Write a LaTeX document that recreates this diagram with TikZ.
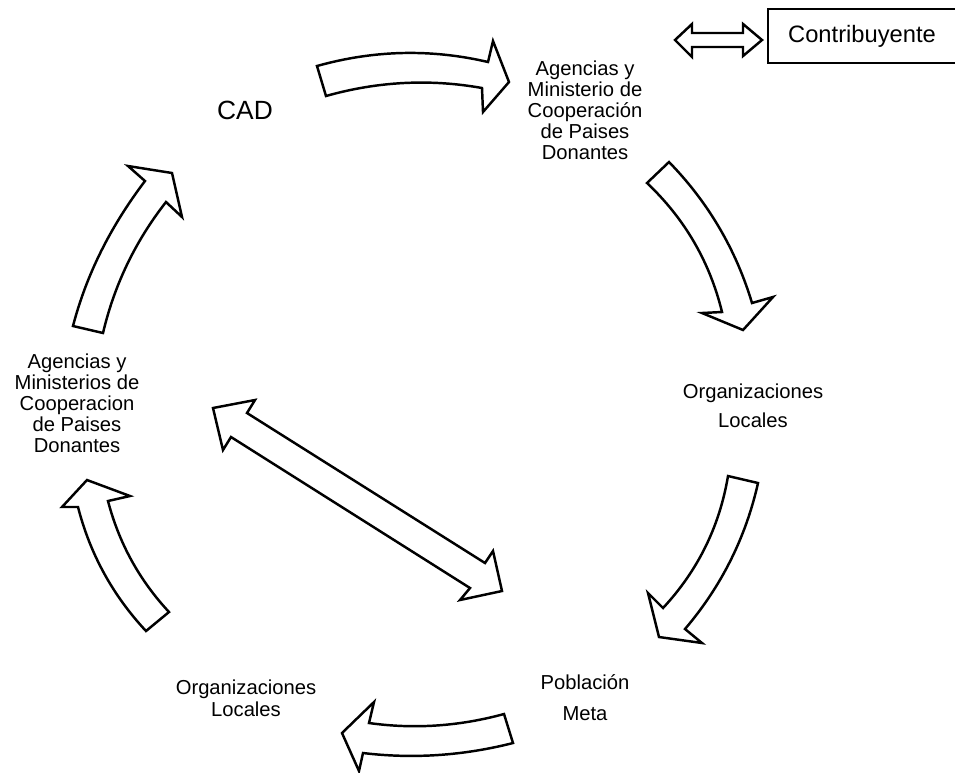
\documentclass[tikz,border=0pt]{standalone}
\usepackage{fontspec}
\setmainfont{Liberation Sans}
\tikzset{
  blockarrow/.style={draw, line width=1.4pt, fill=white, line join=miter},
  lbl/.style={align=center, inner sep=0pt, font=\fontsize{11.5}{11.9}\selectfont},
}

\begin{document}
\begin{tikzpicture}[x=0.02cm, y=-0.02cm]
  \useasboundingbox (0,0) rectangle (955,772);

  % textos del ciclo
  \node[inner sep=0pt, font=\fontsize{15}{18}\selectfont] (cad) at (245,110) {CAD};
  \node[lbl] (donantes) at (585,110.5) {Agencias y\\Ministerio de\\Cooperación\\de Paises\\Donantes};
  \node[lbl, font=\fontsize{11.5}{16.4}\selectfont] (orgder) at (753,406) {Organizaciones\\Locales};
  \node[lbl, font=\fontsize{11.5}{17.6}\selectfont] (poblacion) at (585,698) {Población\\Meta};
  \node[lbl, font=\fontsize{11.5}{12.5}\selectfont] (orgizq) at (246,698) {Organizaciones\\Locales};
  \node[lbl] (donizq) at (77,403.5) {Agencias y\\Ministerios de\\Cooperacion\\de Paises\\Donantes};
  \node[draw, line width=0.75pt, minimum width=3.76cm, minimum height=1.08cm,
        font=\fontsize{13.5}{16}\selectfont] (contrib) at (862,36) {Contribuyente};

  % flechas curvas
  \draw[blockarrow] (317,66) .. controls (374,50) and (431,48.7) .. (488,62) -- (493,41) -- (509,82)
    -- (483,112) -- (482,88) .. controls (430,78.7) and (378,81.3) .. (326,96) -- cycle;
  \draw[blockarrow] (669,162) .. controls (708.1,202.2) and (735.8,249.2) .. (752,303) -- (773,297)
    -- (743,330) -- (702,313) -- (722,312) .. controls (709.7,261.7) and (684.7,218.7) .. (647,183) -- cycle;
  \draw[blockarrow] (758,483) .. controls (745.7,537.7) and (721.3,586.3) .. (685,629) -- (702,643)
    -- (659,637) -- (648,593) -- (663,608) .. controls (697.9,570.5) and (719.5,526.5) .. (728,476) -- cycle;
  \draw[blockarrow] (504,714) .. controls (459,726.3) and (414,729.3) .. (369,723) -- (374,702)
    -- (342,733) -- (359,771) -- (363,753) .. controls (413,759) and (463,755.7) .. (513,743) -- cycle;
  \draw[blockarrow] (169,612) .. controls (139.3,580.1) and (119,543.1) .. (108,501) -- (130,496)
    -- (87,480) -- (62,507) -- (78,507) .. controls (90.1,554.1) and (112.8,595.4) .. (146,631) -- cycle;
  \draw[blockarrow] (73,326) .. controls (86.3,275) and (110.3,226.7) .. (145,181) -- (128,166)
    -- (172,173) -- (182,217) -- (166,202) .. controls (135.4,241.1) and (114.4,284.7) .. (103,333) -- cycle;

  % flechas dobles
  \draw[blockarrow] (213,408) -- (255,400) -- (247,413) -- (485,563) -- (493,551) -- (502,591)
    -- (460,600) -- (470,588) -- (231,437) -- (223,450) -- cycle;
  \draw[blockarrow] (675,40) -- (692,24) -- (692,33) -- (743,33) -- (743,24) -- (762,40)
    -- (743,56) -- (743,47) -- (692,47) -- (692,57) -- cycle;
\end{tikzpicture}
\end{document}
